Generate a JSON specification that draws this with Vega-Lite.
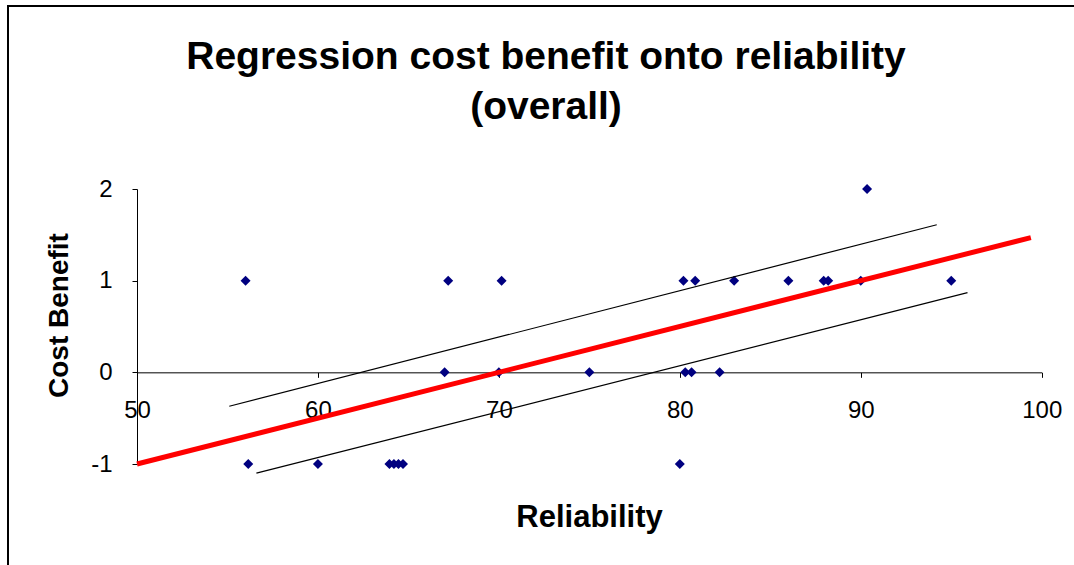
{
  "$schema": "https://vega.github.io/schema/vega-lite/v6.json",
  "width": 1066,
  "height": 559,
  "autosize": {"type": "none"},
  "padding": {"left": 8, "top": 6, "right": 0, "bottom": 0},
  "background": "white",
  "title": {
    "text": ["Regression cost benefit onto reliability", "(overall)"],
    "font": "Liberation Sans",
    "fontSize": 39,
    "fontWeight": "bold",
    "color": "black",
    "lineHeight": 50,
    "anchor": "middle",
    "frame": "group",
    "baseline": "top",
    "offset": -121,
    "dx": 5
  },
  "config": {
    "view": {"stroke": "black", "strokeWidth": 2, "strokeDash": [1066, 1625, 559]},
    "axis": {
      "labelFont": "Liberation Sans",
      "titleFont": "Liberation Sans",
      "labelColor": "black",
      "titleColor": "black",
      "domainColor": "black",
      "tickColor": "black",
      "grid": false
    }
  },
  "datasets": {
    "points": [
      {"reliability": 56.0, "cost_benefit": 1},
      {"reliability": 67.2, "cost_benefit": 1},
      {"reliability": 70.15, "cost_benefit": 1},
      {"reliability": 80.2, "cost_benefit": 1},
      {"reliability": 80.85, "cost_benefit": 1},
      {"reliability": 83.0, "cost_benefit": 1},
      {"reliability": 86.0, "cost_benefit": 1},
      {"reliability": 87.95, "cost_benefit": 1},
      {"reliability": 88.2, "cost_benefit": 1},
      {"reliability": 90.0, "cost_benefit": 1},
      {"reliability": 95.0, "cost_benefit": 1},
      {"reliability": 90.35, "cost_benefit": 2},
      {"reliability": 67.0, "cost_benefit": 0},
      {"reliability": 70.0, "cost_benefit": 0},
      {"reliability": 75.0, "cost_benefit": 0},
      {"reliability": 80.3, "cost_benefit": 0},
      {"reliability": 80.65, "cost_benefit": 0},
      {"reliability": 82.2, "cost_benefit": 0},
      {"reliability": 56.15, "cost_benefit": -1},
      {"reliability": 60.0, "cost_benefit": -1},
      {"reliability": 63.95, "cost_benefit": -1},
      {"reliability": 64.2, "cost_benefit": -1},
      {"reliability": 64.45, "cost_benefit": -1},
      {"reliability": 64.7, "cost_benefit": -1},
      {"reliability": 80.0, "cost_benefit": -1}
    ],
    "fit": [
      {"reliability": 50.0, "cost_benefit": -1.0},
      {"reliability": 99.4, "cost_benefit": 1.47}
    ],
    "bands": [
      {"band": "upper", "reliability": 55.1, "cost_benefit": -0.37},
      {"band": "upper", "reliability": 94.2, "cost_benefit": 1.61},
      {"band": "lower", "reliability": 56.6, "cost_benefit": -1.10},
      {"band": "lower", "reliability": 95.9, "cost_benefit": 0.87}
    ]
  },
  "encoding": {
    "x": {
      "field": "reliability",
      "type": "quantitative",
      "scale": {"domain": [50, 100], "range": [129, 1033.7], "nice": false, "zero": false},
      "axis": {
        "title": "Reliability",
        "values": [50, 60, 70, 80, 90, 100],
        "offset": -192.67,
        "tickSize": 5,
        "labelPadding": 21,
        "labelFontSize": 24,
        "labelFlush": false,
        "labelOverlap": false,
        "titleFontSize": 31,
        "titleFontWeight": "bold",
        "titleX": 581,
        "titleY": 153.7,
        "titleAlign": "center",
        "titleBaseline": "alphabetic",
        "titleAnchor": null
      }
    },
    "y": {
      "field": "cost_benefit",
      "type": "quantitative",
      "scale": {"domain": [-1, 2], "range": [458, 183], "nice": false, "zero": false},
      "axis": {
        "title": "Cost Benefit",
        "values": [-1, 0, 1, 2],
        "labelExpr": "toString(datum.value)",
        "offset": -129,
        "tickSize": 5,
        "labelPadding": 20,
        "labelFontSize": 24,
        "labelFlush": false,
        "labelOverlap": false,
        "titleFontSize": 28,
        "titleFontWeight": "bold",
        "titleAngle": -90,
        "titleX": -70,
        "titleY": 309,
        "titleAlign": "center",
        "titleBaseline": "alphabetic",
        "titleAnchor": null
      }
    }
  },
  "layer": [
    {
      "data": {"name": "points"},
      "mark": {"type": "point", "shape": "diamond", "filled": true, "size": 100, "color": "#000080", "opacity": 1}
    },
    {
      "data": {"name": "bands"},
      "mark": {"type": "line", "color": "black", "strokeWidth": 1.2},
      "encoding": {"detail": {"field": "band"}}
    },
    {
      "data": {"name": "fit"},
      "mark": {"type": "line", "color": "#ff0000", "strokeWidth": 5}
    }
  ]
}
